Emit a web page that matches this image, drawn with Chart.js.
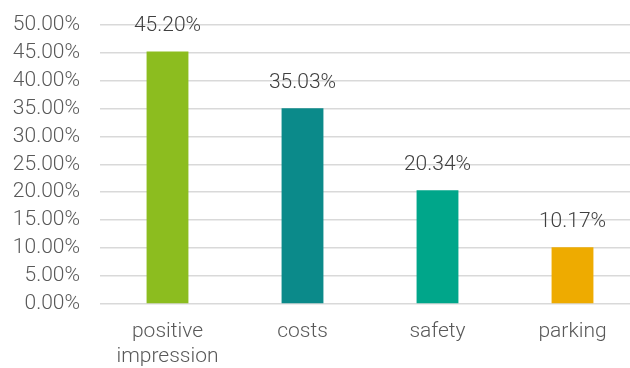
<!DOCTYPE html>
<html>
<head>
<meta charset="utf-8">
<script src="https://cdn.jsdelivr.net/npm/chart.js@4"></script>
<style>
  html, body { margin: 0; padding: 0; background: #fff; overflow: hidden; }
  #wrap { width: 640px; height: 376px; margin-top: -8px; }
</style>
</head>
<body>
<div id="wrap"><canvas id="myChart"></canvas></div>
<script>
var categories = [['positive', 'impression'], 'costs', 'safety', 'parking'];
var shares = [45.20, 35.03, 20.34, 10.17];
var barColors = ['#8cbd1f', '#0b8a8a', '#00a68a', '#eeab00'];
var fontFamily = 'Roboto, "Noto Sans", sans-serif';

// draws the percentage over each bar
var valueLabels = {
    id: 'valueLabels',
    afterDatasetsDraw: function(chart) {
        var ctx = chart.ctx;
        var meta = chart.getDatasetMeta(0);
        ctx.save();
        ctx.font = '300 21px ' + fontFamily;
        ctx.fillStyle = '#404040';
        ctx.textAlign = 'center';
        ctx.textBaseline = 'bottom';
        meta.data.forEach(function(bar, i) {
            ctx.fillText(shares[i].toFixed(2) + '%', bar.x, bar.y - 15);
        });
        ctx.restore();
    }
};

var ctx = document.getElementById('myChart').getContext('2d');
var myChart = new Chart(ctx, {
    type: 'bar',
    data: {
        labels: categories,
        datasets: [{
            data: shares,
            backgroundColor: barColors,
            categoryPercentage: 1,
            barPercentage: 0.31
        }]
    },
    options: {
        responsive: true,
        maintainAspectRatio: false,
        animation: false,
        layout: { padding: 0 },
        plugins: {
            legend: { display: false },
            tooltip: { enabled: false }
        },
        scales: {
            x: {
                grid: { display: false },
                border: { display: false },
                afterFit: function(scale) { scale.height = 64; },
                ticks: {
                    color: '#595959',
                    font: { family: fontFamily, size: 21, weight: 300, lineHeight: 1.2 },
                    padding: 7,
                    maxRotation: 0,
                    autoSkip: false
                }
            },
            y: {
                min: 0,
                max: 50,
                border: { display: false },
                grid: { color: '#d9d9d9', lineWidth: 1.5, drawTicks: false },
                afterFit: function(scale) { scale.width = 100; },
                ticks: {
                    stepSize: 5,
                    autoSkip: false,
                    color: '#595959',
                    font: { family: fontFamily, size: 21, weight: 300 },
                    padding: 20,
                    callback: function(v) { return v.toFixed(2) + '%'; }
                }
            }
        }
    },
    plugins: [valueLabels]
});
</script>
</body>
</html>
